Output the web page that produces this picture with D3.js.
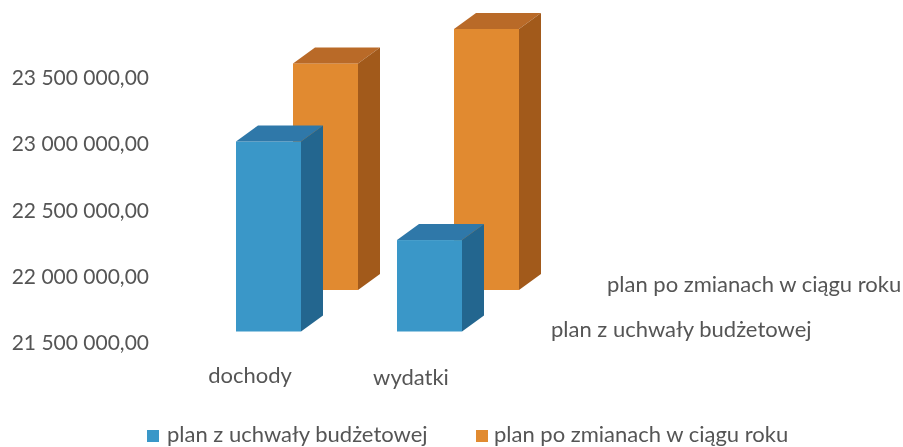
<!DOCTYPE html>
<html lang="pl">
<head>
<meta charset="UTF-8">
<script src="https://d3js.org/d3.v7.min.js"></script>
<style>
  html, body { margin: 0; background: #fff; }
  svg { display: block; filter: blur(0.45px); }
  text { font-family: Lato, "Open Sans", sans-serif; fill: #555; font-size: 22px; }
</style>
<title>Plan budżetu</title>
</head>
<body>
<div id="chart"></div>
<script>
const categories = ["dochody", "wydatki"];
const seriesNames = ["plan z uchwały budżetowej", "plan po zmianach w ciągu roku"];
const planUchwala = [22934000, 22190000];
const planZmiany = [23210000, 23470000];
const tickValues = [21500000, 22000000, 22500000, 23000000, 23500000];

const frontColors = ["#3a97c8", "#e18a30"];
const topColors = ["#2f78a9", "#b96a28"];
const sideColors = ["#23668f", "#a25a1b"];

const width = 903, height = 447;
const svg = d3.select("#chart").append("svg").attr("width", width).attr("height", height);

// 3d look: each series sits further back, shifted right and up
const depthX = 22, depthY = -16, barW = 65;
const seriesDx = d3.scaleOrdinal().domain([0, 1]).range([0, 57]);
const seriesBase = d3.scaleOrdinal().domain([0, 1]).range([331.5, 290]);

const x = d3.scalePoint().domain(categories).range([236, 397]);
const axisY = d3.scaleLinear().domain([21500000, 23500000]).range([343, 78]);
const barH = d3.scaleLinear().domain([21500000, 23500000]).range([0, 265]);

const plLocale = d3.formatLocale({ decimal: ",", thousands: " ", grouping: [3], currency: ["", " zł"] });
const yFormat = plLocale.format(",.2f");

// y axis labels only, no line in the original
const yAxis = svg.append("g")
  .attr("transform", "translate(149,0)")
  .call(d3.axisLeft(axisY).tickValues(tickValues).tickFormat(yFormat).tickSize(0).tickPadding(0));
yAxis.select(".domain").remove();
yAxis.selectAll("text")
  .style("font-size", "21px")
  .style("font-family", "Lato, 'Open Sans', sans-serif");

// back series first so the front one covers it
const bars = [];
categories.forEach((cat, i) => bars.push({ s: 1, cat, v: planZmiany[i] }));
categories.forEach((cat, i) => bars.push({ s: 0, cat, v: planUchwala[i] }));

const barG = svg.selectAll(".bar").data(bars).enter().append("g")
  .attr("class", "bar")
  .attr("transform", d => `translate(${x(d.cat) + seriesDx(d.s)},${seriesBase(d.s) - barH(d.v)})`);

barG.append("rect")
  .attr("width", barW)
  .attr("height", d => barH(d.v))
  .attr("fill", d => frontColors[d.s]);

barG.append("path")
  .attr("d", `M0,0 L${depthX},${depthY} L${barW + depthX},${depthY} L${barW},0 Z`)
  .attr("fill", d => topColors[d.s]);

barG.append("path")
  .attr("d", d => `M${barW},0 L${barW + depthX},${depthY} L${barW + depthX},${barH(d.v) + depthY} L${barW},${barH(d.v)} Z`)
  .attr("fill", d => sideColors[d.s]);

// category labels
svg.selectAll(".cat").data(categories).enter().append("text")
  .attr("class", "cat")
  .attr("x", d => x(d) + 14)
  .attr("y", (d, i) => 383 + i * 2)
  .attr("text-anchor", "middle")
  .text(d => d);

// series labels on the depth axis
svg.selectAll(".depth").data(seriesNames).enter().append("text")
  .attr("class", "depth")
  .attr("x", (d, i) => i === 0 ? 551 : 607)
  .attr("y", (d, i) => i === 0 ? 337 : 292)
  .text(d => d);

// legend
const legend = svg.selectAll(".legend").data(seriesNames).enter().append("g")
  .attr("class", "legend")
  .attr("transform", (d, i) => `translate(${i === 0 ? 147 : 476},430)`);
legend.append("rect")
  .attr("width", 12).attr("height", 12)
  .attr("fill", (d, i) => frontColors[i]);
legend.append("text")
  .attr("x", (d, i) => i === 0 ? 20 : 18)
  .attr("y", 12)
  .text(d => d);
</script>
</body>
</html>
